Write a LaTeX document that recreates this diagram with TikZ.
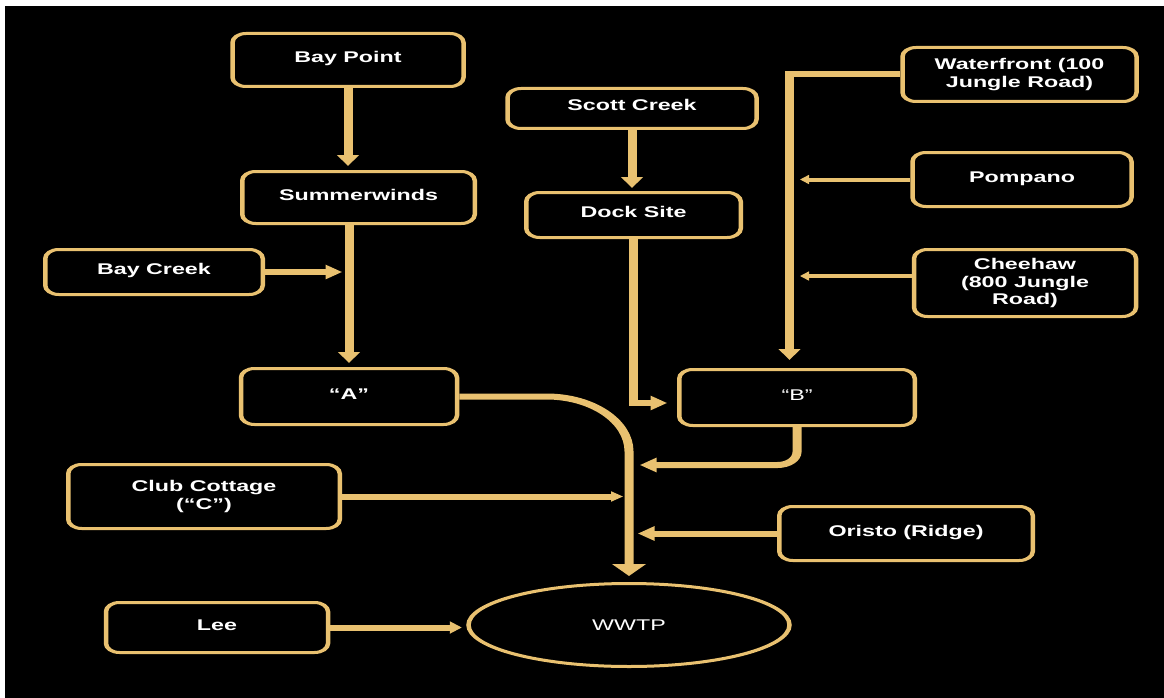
\documentclass[tikz,border=0pt]{standalone}
\usepackage{fontspec}
\setmainfont{Liberation Sans}
\usetikzlibrary{arrows.meta,shapes.geometric}
\definecolor{gold}{RGB}{233,193,112}

\begin{document}
\begin{tikzpicture}[
    x=1pt, y=-1pt,
    box/.style={%
      draw=gold,
      line width=3pt,
      rounded corners=9pt,
      rectangle,
      align=center,
      inner sep=0pt,
      text=white,
      font=\fontsize{15.5}{17.5}\selectfont\bfseries,
    },
    single/.style={text height=11pt, text depth=6pt},
    flow/.style={draw=gold, line width=6pt, -{Triangle[width=14pt,length=11pt]}},
    thin flow/.style={draw=gold, line width=4pt, -{Triangle[width=9pt,length=6pt]}},
  ]
    \useasboundingbox (0,0) rectangle (1164,698);
    \fill[white] (0,0) rectangle (1164,698);
    \fill[black] (5,6) rectangle (1164,698);

  \begin{scope}[transform canvas={xscale=1.5}, x=0.66667pt]
    % left column
    \node [box,single,minimum width=154pt,minimum height=53pt] (baypt) at (348,60) {Bay Point};
    \node [box,single,minimum width=155pt,minimum height=52pt] (summer) at (358.5,197.5) {Summerwinds};
    \node [box,single,minimum width=145pt,minimum height=45pt] (baycreek) at (154,272) {Bay Creek};
    \node [box,single,minimum width=144pt,minimum height=56pt] (boxA) at (349,396.5) {“A”};
    \node [box,minimum width=181pt,minimum height=64pt] (club) at (204,496.5) {Club Cottage\\(“C”)};
    \node [box,single,minimum width=148pt,minimum height=50pt] (lee) at (217,627.5) {Lee};

    % middle column
    \node [box,single,minimum width=166pt,minimum height=40pt] (scott) at (632,108.5) {Scott Creek};
    \node [box,single,minimum width=143pt,minimum height=45pt] (dock) at (633.5,215) {Dock Site};
    \node [box,single,minimum width=157pt,minimum height=56pt,font=\fontsize{15.5}{17.5}\selectfont] (boxB) at (797,397.5) {“B”};
    \node [box,ellipse,minimum width=214pt,minimum height=83pt,font=\fontsize{15.5}{17.5}\selectfont] (wwtp) at (629,625) {WWTP};

    % right column
    \node [box,minimum width=156pt,minimum height=54pt] (water) at (1019.5,74.5) {Waterfront (100\\Jungle Road)};
    \node [box,single,minimum width=146pt,minimum height=54pt] (pomp) at (1022,179.5) {Pompano};
    \node [box,minimum width=148pt,minimum height=67pt] (chee) at (1025,283) {Cheehaw\\(800 Jungle\\Road)};
    \node [box,single,minimum width=169pt,minimum height=54pt] (oristo) at (906,533.5) {Oristo (Ridge)};

    % free ends
    \coordinate (bcin) at (342,272);
    \coordinate (pin) at (800,179.5);
    \coordinate (cin) at (800,276);
    \coordinate (din) at (667,403);
    \coordinate (bin) at (640,465);
    \coordinate (ccin) at (623,496.5);
    \coordinate (oin) at (638,533.5);

    \draw [flow,shorten >=4pt] (baypt.south) -- (baypt.south |- summer.north);
    \draw [flow,shorten >=4pt] (summer.south -| boxA.north) -- (boxA.north);
    \draw [flow] (baycreek.east) -- (bcin);
    \draw [flow,shorten >=3pt] (scott.south) -- (scott.south |- dock.north);
    \draw [flow] (dock.south) |- (din);
    \draw [flow,shorten >=8pt] (water.west) -| ([xshift=-5pt]boxB.north);
    \draw [thin flow] (pomp.west) -- (pin);
    \draw [thin flow] (chee.west |- cin) -- (cin);
    \draw [flow,rounded corners=55pt,-{Triangle[width=22pt,length=12pt]},shorten >=6pt] (boxA.east) -| (wwtp.north);
    \draw [flow,rounded corners=13pt] (boxB.south) |- (bin);
    \draw [flow,-{Triangle[width=10pt,length=8pt]}] (club.east) -- (ccin);
    \draw [flow] (oristo.west) -- (oin);
    \draw [flow,-{Triangle[width=12pt,length=8pt]},shorten >=3pt] (lee.east) -- (lee.east -| wwtp.west);
  \end{scope}
\end{tikzpicture}
\end{document}
